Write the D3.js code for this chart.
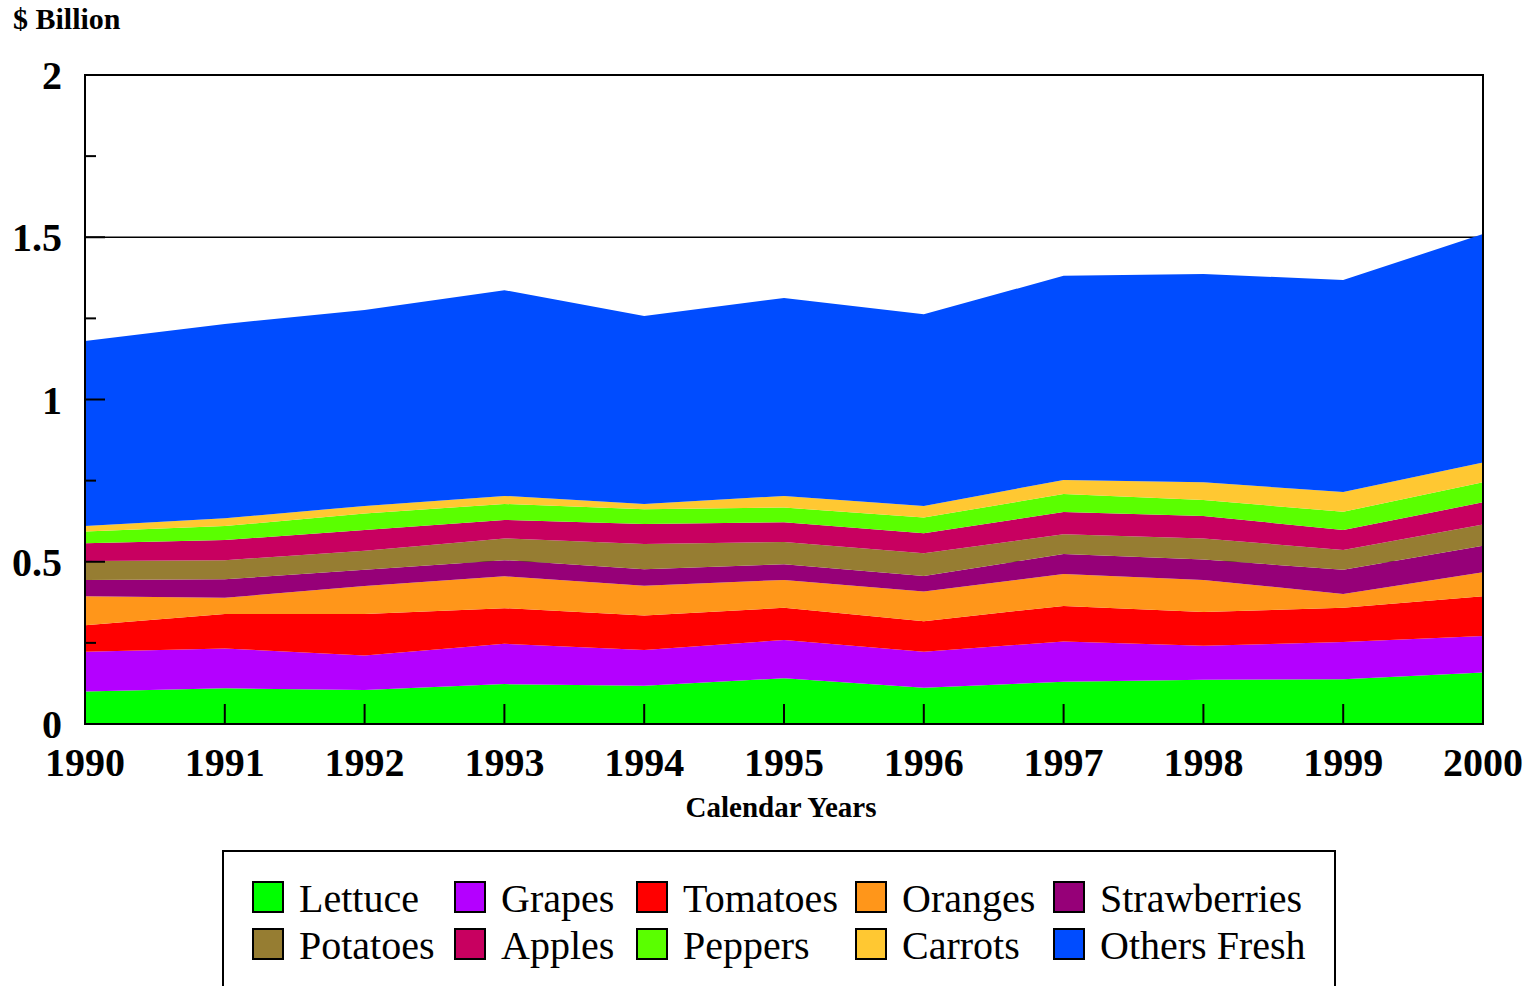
<!DOCTYPE html>
<html>
<head>
<meta charset="utf-8">
<script src="https://cdn.jsdelivr.net/npm/d3@7"></script>
<style>
  body { margin: 0; background: #fff; }
  svg { display: block; font-family: "Liberation Serif", "Times New Roman", serif; }
</style>
</head>
<body>
<div id="chart"></div>
<script>
// Years on the x axis
const years = [1990, 1991, 1992, 1993, 1994, 1995, 1996, 1997, 1998, 1999, 2000];

// Series values, $ billion
const lettuce      = [0.100, 0.110, 0.105, 0.123, 0.118, 0.141, 0.112, 0.130, 0.136, 0.138, 0.159];
const grapes       = [0.123, 0.123, 0.106, 0.124, 0.110, 0.118, 0.111, 0.124, 0.105, 0.115, 0.112];
const tomatoes     = [0.081, 0.106, 0.128, 0.110, 0.106, 0.099, 0.094, 0.110, 0.104, 0.105, 0.123];
const oranges      = [0.090, 0.050, 0.086, 0.098, 0.092, 0.086, 0.091, 0.098, 0.099, 0.043, 0.074];
const strawberries = [0.050, 0.057, 0.050, 0.050, 0.051, 0.048, 0.048, 0.062, 0.063, 0.074, 0.081];
const potatoes     = [0.058, 0.059, 0.059, 0.067, 0.078, 0.069, 0.070, 0.061, 0.065, 0.061, 0.066];
const apples       = [0.055, 0.062, 0.064, 0.057, 0.061, 0.061, 0.062, 0.068, 0.069, 0.062, 0.068];
const peppers      = [0.036, 0.043, 0.051, 0.049, 0.046, 0.045, 0.048, 0.056, 0.049, 0.056, 0.062];
const carrots      = [0.017, 0.024, 0.023, 0.025, 0.016, 0.036, 0.036, 0.043, 0.055, 0.061, 0.061];
const othersFresh  = [0.570, 0.599, 0.604, 0.634, 0.579, 0.610, 0.591, 0.629, 0.642, 0.653, 0.704];

const seriesNames = ['Lettuce', 'Grapes', 'Tomatoes', 'Oranges', 'Strawberries',
                     'Potatoes', 'Apples', 'Peppers', 'Carrots', 'Others Fresh'];
const seriesValues = [lettuce, grapes, tomatoes, oranges, strawberries,
                      potatoes, apples, peppers, carrots, othersFresh];

// Tick values / labels
const yMajorTicks = [0, 0.5, 1, 1.5, 2];
const yMinorTicks = [0.25, 0.75, 1.25, 1.75];
const yTickLabels = ['0', '0.5', '1', '1.5', '2'];

const colors = {
  'Lettuce': '#00ff00', 'Grapes': '#b400ff', 'Tomatoes': '#ff0000', 'Oranges': '#ff961a',
  'Strawberries': '#960078', 'Potatoes': '#967d32', 'Apples': '#c80060', 'Peppers': '#5aff00',
  'Carrots': '#ffc832', 'Others Fresh': '#004cff'
};

// build rows for d3.stack
const rows = years.map((yr, i) => {
  const row = { year: yr };
  seriesNames.forEach((name, s) => { row[name] = seriesValues[s][i]; });
  return row;
});

const W = 1532, H = 986;
const plot = { left: 85, right: 1483, top: 75, bottom: 724 };

const svg = d3.select('#chart').append('svg')
  .attr('width', W)
  .attr('height', H);

const x = d3.scaleLinear()
  .domain([years[0], years[years.length - 1]])
  .range([plot.left, plot.right]);

const y = d3.scaleLinear()
  .domain([0, 2])
  .range([plot.bottom, plot.top]);

// gridlines behind the bands
svg.append('g')
  .selectAll('line')
  .data(yMajorTicks.slice(1, -1))
  .join('line')
  .attr('x1', plot.left).attr('x2', plot.right)
  .attr('y1', d => y(d)).attr('y2', d => y(d))
  .attr('stroke', '#000').attr('stroke-width', 1.5);

// stacked areas
const stack = d3.stack().keys(seriesNames);
const layers = stack(rows);

const area = d3.area()
  .x(d => x(d.data.year))
  .y0(d => y(d[0]))
  .y1(d => y(d[1]));

svg.append('g')
  .selectAll('path')
  .data(layers)
  .join('path')
  .attr('d', area)
  .attr('fill', d => colors[d.key]);

// ticks drawn on top, pointing inward
const tickG = svg.append('g').attr('stroke', '#000').attr('stroke-width', 2);

tickG.selectAll('.xtick')
  .data(years.slice(1, -1))
  .join('line')
  .attr('class', 'xtick')
  .attr('x1', d => x(d)).attr('x2', d => x(d))
  .attr('y1', plot.bottom).attr('y2', plot.bottom - 20);

tickG.selectAll('.ymaj')
  .data(yMajorTicks.slice(1, -1))
  .join('line')
  .attr('class', 'ymaj')
  .attr('x1', plot.left).attr('x2', plot.left + 20)
  .attr('y1', d => y(d)).attr('y2', d => y(d));

tickG.selectAll('.ymin')
  .data(yMinorTicks)
  .join('line')
  .attr('class', 'ymin')
  .attr('x1', plot.left).attr('x2', plot.left + 11)
  .attr('y1', d => y(d)).attr('y2', d => y(d));

// frame
svg.append('rect')
  .attr('x', plot.left).attr('y', plot.top)
  .attr('width', plot.right - plot.left)
  .attr('height', plot.bottom - plot.top)
  .attr('fill', 'none')
  .attr('stroke', '#000')
  .attr('stroke-width', 2);

// y tick labels
svg.append('g')
  .selectAll('text')
  .data(yMajorTicks)
  .join('text')
  .attr('x', 62)
  .attr('y', d => y(d) + 14)
  .attr('text-anchor', 'end')
  .style('font-size', '40px')
  .style('font-weight', 'bold')
  .text((d, i) => yTickLabels[i]);

// x tick labels
svg.append('g')
  .selectAll('text')
  .data(years)
  .join('text')
  .attr('x', d => x(d))
  .attr('y', 776)
  .attr('text-anchor', 'middle')
  .style('font-size', '40px')
  .style('font-weight', 'bold')
  .text(d => d);

// axis titles
svg.append('text')
  .attr('x', 13).attr('y', 29)
  .style('font-size', '30px')
  .style('font-weight', 'bold')
  .text('$ Billion');

svg.append('text')
  .attr('x', 781).attr('y', 817)
  .attr('text-anchor', 'middle')
  .style('font-size', '29px')
  .style('font-weight', 'bold')
  .text('Calendar Years');

// legend
const legend = svg.append('g');
legend.append('rect')
  .attr('x', 223).attr('y', 851)
  .attr('width', 1112).attr('height', 160)
  .attr('fill', 'none')
  .attr('stroke', '#000')
  .attr('stroke-width', 2);

const legendCols = [253, 455, 637, 856, 1054];
const legendRows = [882, 929];

const items = legend.selectAll('g')
  .data(seriesNames)
  .join('g')
  .attr('transform', (d, i) => `translate(${legendCols[i % 5]},${legendRows[Math.floor(i / 5)]})`);

items.append('rect')
  .attr('width', 30).attr('height', 30)
  .attr('fill', d => colors[d])
  .attr('stroke', '#000')
  .attr('stroke-width', 2);

items.append('text')
  .attr('x', 46).attr('y', 30)
  .style('font-size', '40px')
  .text(d => d);
</script>
</body>
</html>
